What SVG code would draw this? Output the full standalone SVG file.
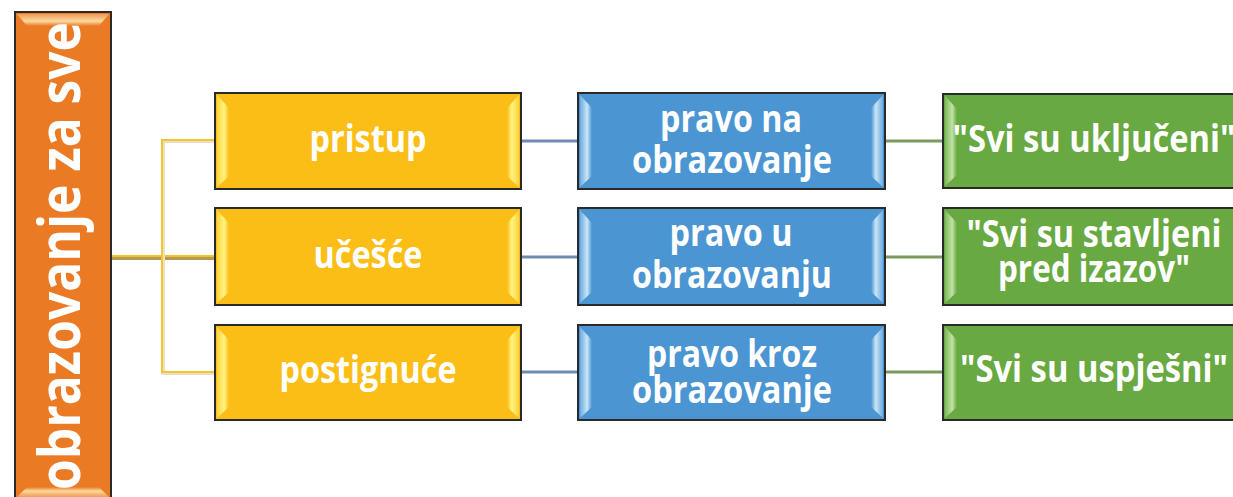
<svg xmlns="http://www.w3.org/2000/svg" width="1233" height="497" viewBox="0 0 1233 497">
<defs>
<style>
.t{font-family:"Open Sans","Liberation Sans",sans-serif;font-weight:bold;fill:#ffffff;font-size:37px;text-anchor:middle}
.box{stroke:#2a2a2a;stroke-width:2}
.y{fill:#FBBE16}
.b{fill:#4A95D2}
.g{fill:#68A941}
.o{fill:#EB7A25}
</style>
<linearGradient id="hlY" x1="0" y1="0" x2="1" y2="0"><stop offset="0" stop-color="#FCD23A"/><stop offset="0.6" stop-color="#FFF483"/><stop offset="1" stop-color="#FBBE16"/></linearGradient>
<linearGradient id="hlYr" x1="1" y1="0" x2="0" y2="0"><stop offset="0" stop-color="#FCD23A"/><stop offset="0.6" stop-color="#FFF483"/><stop offset="1" stop-color="#FBBE16"/></linearGradient>
<linearGradient id="hlB" x1="0" y1="0" x2="1" y2="0"><stop offset="0" stop-color="#6BAAE0"/><stop offset="0.6" stop-color="#C9E6F8"/><stop offset="1" stop-color="#4A95D2"/></linearGradient>
<linearGradient id="hlBr" x1="1" y1="0" x2="0" y2="0"><stop offset="0" stop-color="#6BAAE0"/><stop offset="0.6" stop-color="#C9E6F8"/><stop offset="1" stop-color="#4A95D2"/></linearGradient>
<linearGradient id="hlG" x1="0" y1="0" x2="1" y2="0"><stop offset="0" stop-color="#7DB85A"/><stop offset="0.6" stop-color="#C2E3A6"/><stop offset="1" stop-color="#68A941"/></linearGradient>
<linearGradient id="hlO" x1="0" y1="0" x2="0" y2="1"><stop offset="0" stop-color="#F09A50"/><stop offset="0.6" stop-color="#FBD9A0"/><stop offset="1" stop-color="#EB7A25"/></linearGradient>
<linearGradient id="hlOb" x1="0" y1="1" x2="0" y2="0"><stop offset="0" stop-color="#F09A50"/><stop offset="0.6" stop-color="#FBD9A0"/><stop offset="1" stop-color="#EB7A25"/></linearGradient>
</defs>

<g id="connectors" fill="none">
<line x1="111" y1="258" x2="215" y2="258" stroke="#B49A55" stroke-width="4"/>
<line x1="111" y1="256" x2="215" y2="256" stroke="#F2C22A" stroke-width="2"/>
<polyline points="215,141 163,141 163,373 215,373" stroke="#E8E0C8" stroke-width="4"/>
<polyline points="215,140 162,140 162,372 215,372" stroke="#F7C52C" stroke-width="2"/>
<g stroke="#6E8CB3" stroke-width="3">
<line x1="521" y1="141" x2="578" y2="141"/>
<line x1="521" y1="257" x2="578" y2="257"/>
<line x1="521" y1="372" x2="578" y2="372"/>
</g>
<g stroke="#7A9A5E" stroke-width="3">
<line x1="885" y1="141" x2="943" y2="141"/>
<line x1="885" y1="257" x2="943" y2="257"/>
<line x1="885" y1="372" x2="943" y2="372"/>
</g>
</g>

<g id="root">
<rect class="box o" x="15" y="12" width="96" height="500"/>
<polygon points="17,14 109,14 99,26 27,26" fill="url(#hlO)"/>
<polygon points="17,497 109,497 99,487 27,487" fill="url(#hlOb)"/>
<text class="t" x="0" y="0" transform="translate(80,256) rotate(-90)" style="font-size:57px" textLength="468" lengthAdjust="spacingAndGlyphs">obrazovanje za sve</text>
</g>

<g id="n-pristup">
<rect class="box y" x="215" y="93" width="306" height="96"/>
<polygon points="217,95 229,108 229,176 217,187" fill="url(#hlY)"/>
<polygon points="519,95 507,108 507,176 519,187" fill="url(#hlYr)"/>
<text class="t" x="368" y="152" textLength="117" lengthAdjust="spacingAndGlyphs">pristup</text>
</g>
<g id="n-ucesce">
<rect class="box y" x="215" y="208" width="306" height="97"/>
<polygon points="217,210 229,223 229,292 217,303" fill="url(#hlY)"/>
<polygon points="519,210 507,223 507,292 519,303" fill="url(#hlYr)"/>
<text class="t" x="368" y="268" textLength="109" lengthAdjust="spacingAndGlyphs">učešće</text>
</g>
<g id="n-postignuce">
<rect class="box y" x="215" y="325" width="306" height="95"/>
<polygon points="217,327 229,340 229,407 217,418" fill="url(#hlY)"/>
<polygon points="519,327 507,340 507,407 519,418" fill="url(#hlYr)"/>
<text class="t" x="368" y="383" textLength="177" lengthAdjust="spacingAndGlyphs">postignuće</text>
</g>

<g id="n-pravo-na">
<rect class="box b" x="578" y="93" width="307" height="96"/>
<polygon points="580,95 592,108 592,176 580,187" fill="url(#hlB)"/>
<polygon points="883,95 871,108 871,176 883,187" fill="url(#hlBr)"/>
<text class="t" x="731" y="132" textLength="142" lengthAdjust="spacingAndGlyphs">pravo na</text>
<text class="t" x="732" y="173" textLength="200" lengthAdjust="spacingAndGlyphs">obrazovanje</text>
</g>
<g id="n-pravo-u">
<rect class="box b" x="578" y="208" width="307" height="97"/>
<polygon points="580,210 592,223 592,292 580,303" fill="url(#hlB)"/>
<polygon points="883,210 871,223 871,292 883,303" fill="url(#hlBr)"/>
<text class="t" x="731" y="246" textLength="123" lengthAdjust="spacingAndGlyphs">pravo u</text>
<text class="t" x="732" y="288" textLength="200" lengthAdjust="spacingAndGlyphs">obrazovanju</text>
</g>
<g id="n-pravo-kroz">
<rect class="box b" x="578" y="325" width="307" height="95"/>
<polygon points="580,327 592,340 592,407 580,418" fill="url(#hlB)"/>
<polygon points="883,327 871,340 871,407 883,418" fill="url(#hlBr)"/>
<text class="t" x="732" y="367" textLength="170" lengthAdjust="spacingAndGlyphs">pravo kroz</text>
<text class="t" x="732" y="403" textLength="200" lengthAdjust="spacingAndGlyphs">obrazovanje</text>
</g>

<g id="n-ukljuceni">
<rect class="box g" x="943" y="94" width="310" height="94"/>
<polygon points="945,96 957,109 957,175 945,186" fill="url(#hlG)"/>
<text class="t" x="1094" y="152" textLength="283" lengthAdjust="spacingAndGlyphs">"Svi su uključeni"</text>
</g>
<g id="n-stavljeni">
<rect class="box g" x="943" y="208" width="310" height="97"/>
<polygon points="945,210 957,223 957,292 945,303" fill="url(#hlG)"/>
<text class="t" x="1094" y="247" textLength="255" lengthAdjust="spacingAndGlyphs">"Svi su stavljeni</text>
<text class="t" x="1094" y="282" textLength="192" lengthAdjust="spacingAndGlyphs">pred izazov"</text>
</g>
<g id="n-uspjesni">
<rect class="box g" x="943" y="325" width="310" height="95"/>
<polygon points="945,327 957,340 957,407 945,418" fill="url(#hlG)"/>
<text class="t" x="1094" y="382" textLength="268" lengthAdjust="spacingAndGlyphs">"Svi su uspješni"</text>
</g>
</svg>
